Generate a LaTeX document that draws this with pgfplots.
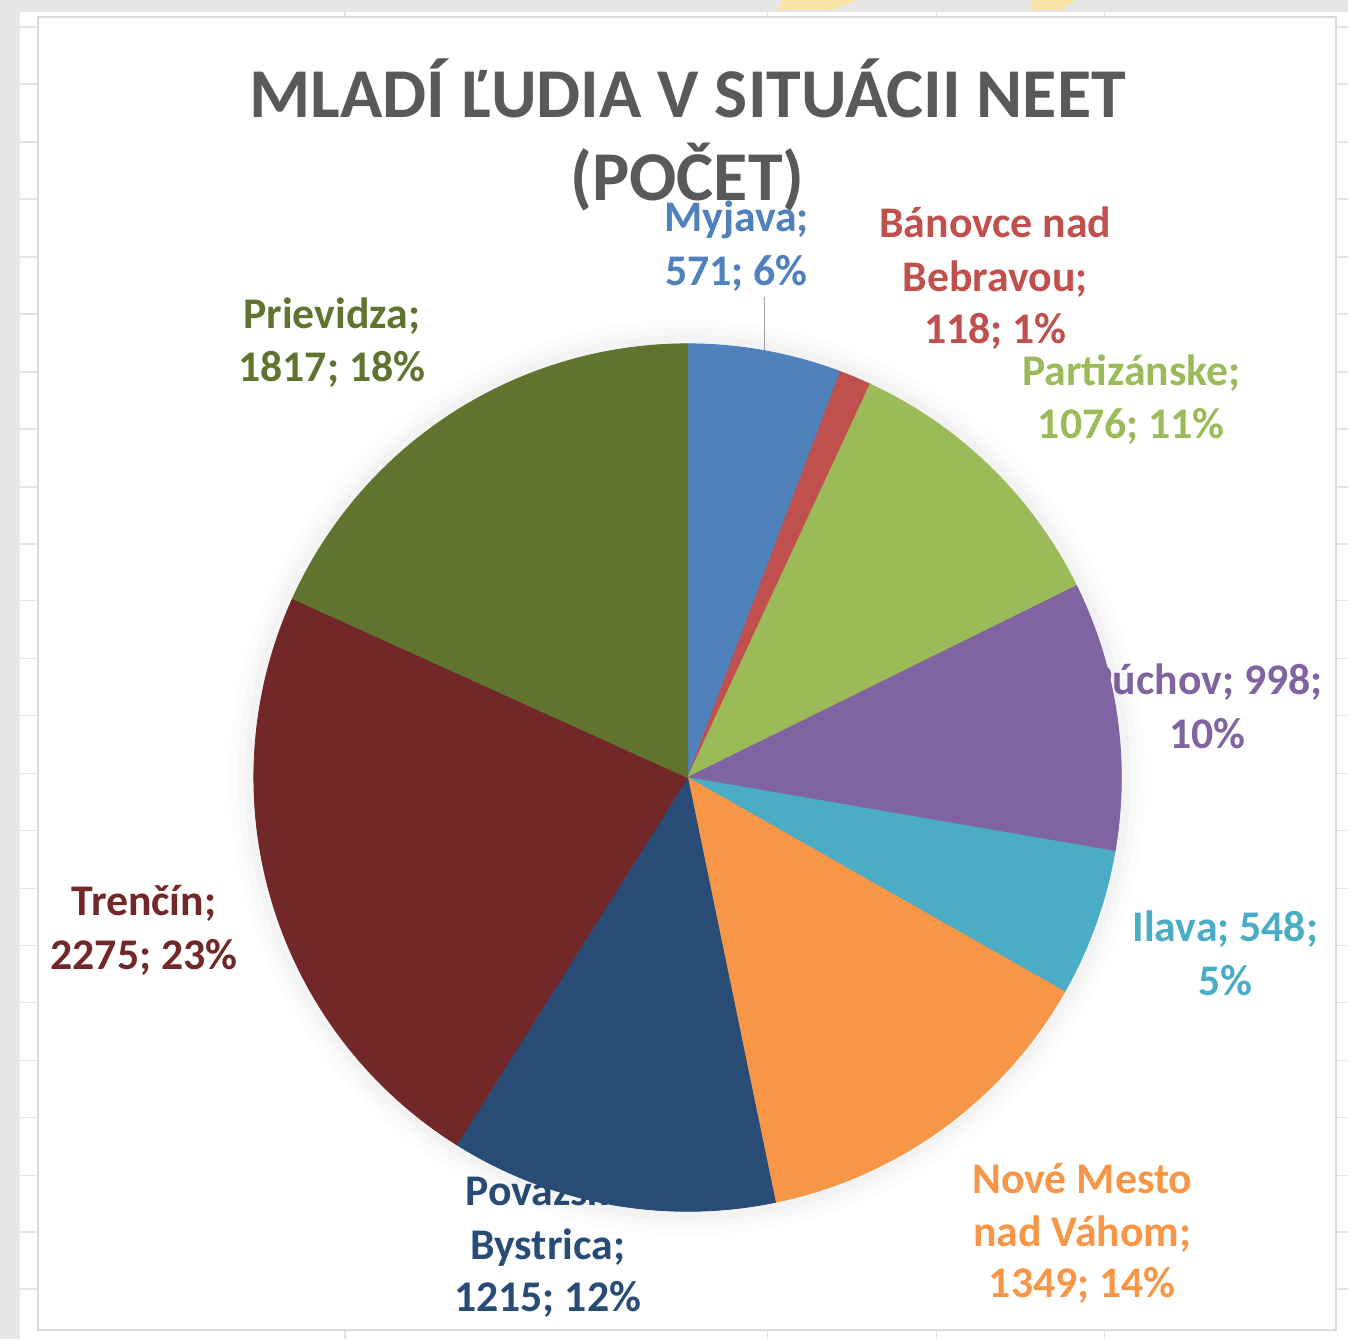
\documentclass[border=0pt]{standalone}
\usepackage{fontspec}
\setmainfont{Carlito}
\usepackage{pgfplots}
\pgfplotsset{compat=1.18}
\definecolor{cMyj}{HTML}{4F81BD}
\definecolor{cBan}{HTML}{C0504D}
\definecolor{cPar}{HTML}{9BBB59}
\definecolor{cPuc}{HTML}{8064A2}
\definecolor{cIla}{HTML}{4BACC6}
\definecolor{cNMe}{HTML}{F79646}
\definecolor{cPBy}{HTML}{284C75}
\definecolor{cTre}{HTML}{722828}
\definecolor{cPri}{HTML}{60742F}
\definecolor{ttl}{HTML}{595959}
\definecolor{bgg}{HTML}{E7E7E7}
\definecolor{grd}{HTML}{E3E3E3}
\definecolor{frm}{HTML}{D9D9D9}
\definecolor{ylw}{HTML}{F9E4A8}
\newcommand{\lf}{\bfseries\fontsize{16.2}{20}\selectfont}
\newcommand{\lbl}[4]{\node[anchor=base, text=#1, font=\lf, inner sep=0pt] at (axis cs:#2,#3) {#4};}
% slice: colour, cumulative start, cumulative end (total 9967)
\newcommand{\slice}[3]{\addplot[fill=#1, draw=#1, line width=0.3pt, domain=#2:#3, samples=90, variable=\t]
  ({688+434*cos(90-\t*360/9967)}, {778-434*sin(90-\t*360/9967)}) -- (axis cs:688,778) -- cycle;}
\begin{document}
\begin{tikzpicture}
\begin{axis}[x=0.37pt, y=0.37pt, y dir=reverse, xmin=0, xmax=1349, ymin=0, ymax=1340,
  hide axis, clip=false, enlargelimits=false]
% background (spreadsheet)
\fill[bgg] (axis cs:0,0) rectangle (axis cs:1349,1340);
\fill[white] (axis cs:20,11) rectangle (axis cs:1349,1340);
\fill[ylw] (axis cs:782,0) -- (axis cs:857,0) -- (axis cs:830,11) -- (axis cs:778,11) -- cycle;
\fill[ylw] (axis cs:1033,0) -- (axis cs:1077,0) -- (axis cs:1060,11) -- (axis cs:1029,11) -- cycle;
\pgfplotsinvokeforeach{27,84,142,199,257,314,372,429,487,544,601,659,716,774,831,889,946,1003,1061,1118,1176,1233,1290}{
  \draw[grd, line width=0.6pt] (axis cs:20,#1) -- (axis cs:38,#1);
  \draw[grd, line width=0.6pt] (axis cs:1337,#1) -- (axis cs:1349,#1);
}
\pgfplotsinvokeforeach{345,768,937,1105}{
  \draw[grd, line width=0.6pt] (axis cs:#1,11) -- (axis cs:#1,17);
  \draw[grd, line width=0.6pt] (axis cs:#1,1330) -- (axis cs:#1,1340);
}
\draw[grd, line width=0.6pt] (axis cs:20,11) -- (axis cs:1349,11);
\draw[frm, line width=0.9pt, fill=white] (axis cs:38,17) rectangle (axis cs:1337,1331);
% title
\node[anchor=base, text=ttl, font=\bfseries\fontsize{25.9}{30}\selectfont, inner sep=0pt] at (axis cs:688,118) {MLADÍ ĽUDIA V SITUÁCII NEET};
\node[anchor=base, text=ttl, font=\bfseries\fontsize{25.9}{30}\selectfont, inner sep=0pt] at (axis cs:688,201) {(POČET)};
% labels
\lbl{cMyj}{737}{232}{Myjava;}
\lbl{cMyj}{737}{286}{571; 6\%}
\lbl{cBan}{996}{238}{Bánovce nad}
\lbl{cBan}{996}{292}{Bebravou;}
\lbl{cBan}{996}{344}{118; 1\%}
\lbl{cPar}{1132}{386}{Partizánske;}
\lbl{cPar}{1132}{439}{1076; 11\%}
\lbl{cPuc}{1207}{695}{Púchov; 998;}
\lbl{cPuc}{1208}{749}{10\%}
\lbl{cIla}{1226}{942}{Ilava; 548;}
\lbl{cIla}{1226}{996}{5\%}
\lbl{cNMe}{1083}{1194}{Nové Mesto}
\lbl{cNMe}{1083}{1247}{nad Váhom;}
\lbl{cNMe}{1083}{1298}{1349; 14\%}
\lbl{cPBy}{548}{1206}{Považská}
\lbl{cPBy}{548}{1260}{Bystrica;}
\lbl{cPBy}{548}{1312}{1215; 12\%}
\lbl{cTre}{144}{916}{Trenčín;}
\lbl{cTre}{144}{970}{2275; 23\%}
\lbl{cPri}{332}{329}{Prievidza;}
\lbl{cPri}{332}{382}{1817; 18\%}
\draw[gray!70, line width=0.6pt] (axis cs:765,297) -- (axis cs:765,352);
% soft shadow
\fill[black, opacity=0.012] (axis cs:688,778) circle[radius=458*0.37pt];
\fill[black, opacity=0.015] (axis cs:688,778) circle[radius=450*0.37pt];
\fill[black, opacity=0.02] (axis cs:688,778) circle[radius=443*0.37pt];
% pie slices (values: 571,118,1076,998,548,1349,1215,2275,1817)
\slice{cMyj}{0}{571}
\slice{cBan}{571}{689}
\slice{cPar}{689}{1765}
\slice{cPuc}{1765}{2763}
\slice{cIla}{2763}{3311}
\slice{cNMe}{3311}{4660}
\slice{cPBy}{4660}{5875}
\slice{cTre}{5875}{8150}
\slice{cPri}{8150}{9967}
\end{axis}
\end{tikzpicture}
\end{document}
